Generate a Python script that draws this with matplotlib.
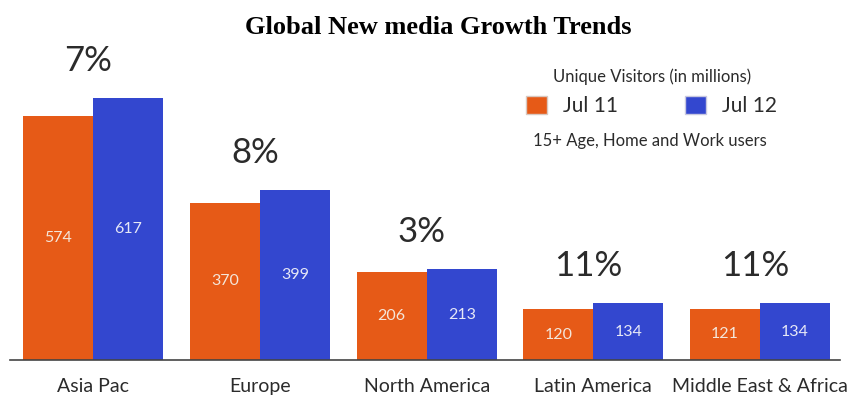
import numpy as np
import matplotlib
matplotlib.use("Agg")
import matplotlib.pyplot as plt
from matplotlib.patches import Patch

regions = ["Asia Pac", "Europe", "North America", "Latin America", "Middle East & Africa"]
jul11 = [574, 370, 206, 120, 121]
jul12 = [617, 399, 213, 134, 134]
growth = ["7%", "8%", "3%", "11%", "11%"]

ORANGE = "#E65A17"
BLUE = "#3347CF"
TXT = "#2b2b2b"

plt.rcParams["font.family"] = ["Lato", "DejaVu Sans"]

fig = plt.figure(figsize=(8.49, 3.98), dpi=100)
ax = fig.add_axes([10 / 849, 38 / 398, 830 / 849, 320 / 398])

x = np.arange(len(regions))
w = 0.42
ax.bar(x - w / 2, jul11, width=w, color=ORANGE)
ax.bar(x + w / 2, jul12, width=w, color=BLUE)

for i in range(len(regions)):
    ax.text(x[i] - w / 2, jul11[i] / 2, str(jul11[i]), ha="center", va="center",
            color="#f4e6da", fontsize=11.5)
    ax.text(x[i] + w / 2, jul12[i] / 2, str(jul12[i]), ha="center", va="center",
            color="#e6e8f6", fontsize=11.5)
    top = max(jul11[i], jul12[i])
    ax.text(x[i] - 0.03, top + 50, growth[i], ha="center", va="bottom",
            color=TXT, fontsize=25)

ax.set_xlim(-0.5, 4.48)
ax.set_ylim(0, 753)
ax.set_xticks(x)
ax.set_xticklabels(regions, fontsize=14, color=TXT)
ax.tick_params(axis="x", length=0, pad=13)
ax.set_yticks([])
for s in ["top", "right", "left"]:
    ax.spines[s].set_visible(False)
ax.spines["bottom"].set_color("#444444")
ax.spines["bottom"].set_linewidth(1.2)

fig.text(0.516, 1 - 27 / 398, "Global New media Growth Trends", ha="center", va="center",
         fontsize=19, fontweight="bold", family="Liberation Serif")

handles = [Patch(facecolor=ORANGE, edgecolor="#d8c8c0", label="Jul 11"),
           Patch(facecolor=BLUE, edgecolor="#c8c8e0", label="Jul 12")]
leg = ax.legend(handles=handles, ncol=2, frameon=False, fontsize=15,
                handlelength=1.0, handleheight=1.0, handletextpad=0.8,
                columnspacing=3.2, title="Unique Visitors (in millions)",
                title_fontsize=12, loc="upper left",
                bbox_to_anchor=(507 / 849, 1 - 50 / 398),
                bbox_transform=fig.transFigure)
for t in leg.get_texts():
    t.set_color(TXT)
leg.get_title().set_color(TXT)

fig.text(533 / 849, 1 - 141 / 398, "15+ Age, Home and Work users", ha="left",
         va="center", fontsize=12, color=TXT)

fig.savefig("out.png", dpi=100)
